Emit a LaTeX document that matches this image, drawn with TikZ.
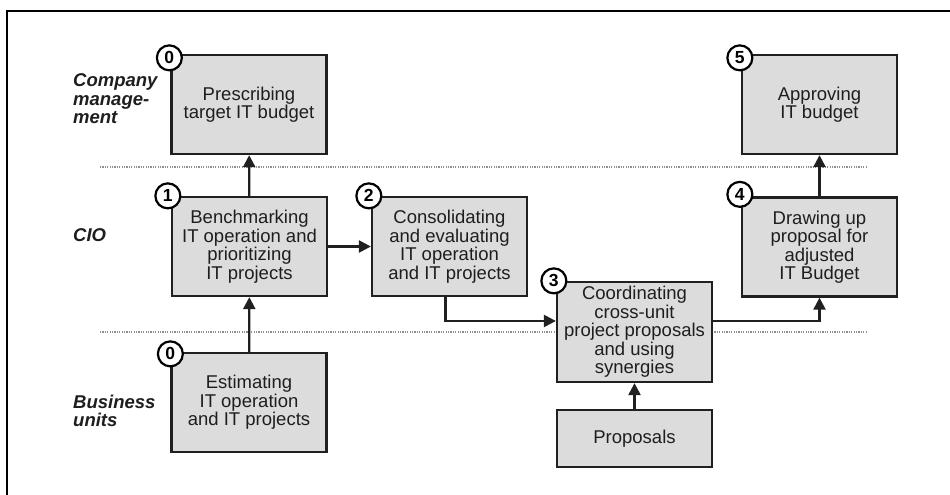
\documentclass[tikz,border=0pt]{standalone}
\usepackage{fontspec}
\setmainfont{Liberation Sans}
\usetikzlibrary{arrows.meta,calc}
\definecolor{boxfill}{HTML}{DCDCDC}
\definecolor{boxline}{HTML}{202020}
\definecolor{txt}{HTML}{1E1E1E}
\definecolor{sepgray}{HTML}{8E8E8E}
\begin{document}
\begin{tikzpicture}[x=1pt,y=-1pt,
  stepbox/.style={draw=boxline, fill=boxfill, line width=2.3pt,
    minimum width=155pt, minimum height=99pt, inner sep=0pt,
    align=center, text=txt, font=\fontsize{18.5}{18.5}\selectfont},
  numtag/.style={circle, draw=black, fill=white, line width=2.2pt,
    minimum size=25pt, inner sep=0pt, text=black,
    font=\fontsize{17.5}{17.5}\selectfont\bfseries},
  lane/.style={anchor=west, align=left, inner sep=0pt, text=txt,
    font=\fontsize{18.5}{18.5}\selectfont\bfseries\itshape},
  flow/.style={draw=boxline, line width=2.3pt,
    -{Triangle[length=12pt,width=12pt]}},
  sep/.style={draw=sepgray, line width=1.1pt, dash pattern=on 1.2pt off 1.2pt}]

  % canvas and frame
  \useasboundingbox (0,0) rectangle (950,495);
  \draw[line width=2.6pt] (7,495) -- (7,11) -- (950,11);

  % lane separators
  \coordinate (s1a) at (100,167);
  \coordinate (s1b) at (867,167);
  \coordinate (s2a) at (100,332);
  \coordinate (s2b) at (867,332);
  \draw[sep] (s1a) -- (s1b);
  \draw[sep] (s2a) -- (s2b);

  % lane labels
  \node[lane] (lmgmt) at (73,99) {Company\\manage-\\ment};
  \node[lane] (lcio) at (73,235) {CIO};
  \node[lane] (lbu) at (73,411) {Business\\units};

  % process steps
  \node[stepbox] (b0) at (249,104.5) {Prescribing\\target IT budget};
  \node[stepbox] (b1) at (249.5,246.5) {Benchmarking\\IT operation and\\prioritizing\\IT projects};
  \node[stepbox] (be) at (249,402.5) {Estimating\\IT operation\\and IT projects};
  \node[stepbox] (b2) at (449.5,246.5) {Consolidating\\and evaluating\\IT operation\\and IT projects};
  \node[stepbox, minimum height=100pt] (b3) at (634.5,332) {Coordinating\\cross-unit\\project proposals\\and using\\synergies};
  \node[stepbox, minimum height=57pt] (bp) at (634.5,438.5) {Proposals};
  \node[stepbox] (b4) at (819.5,247) {Drawing up\\proposal for\\adjusted\\IT Budget};
  \node[stepbox] (b5) at (819.5,104.5) {Approving\\IT budget};

  % step numbers
  \node[numtag] (n0) at ($(b0.north west)+(-1,4)$) {0};
  \node[numtag] (n1) at ($(b1.north west)+(-3,0)$) {1};
  \node[numtag] (ne) at ($(be.north west)+(0,2)$) {0};
  \node[numtag] (n2) at ($(b2.north west)+(-2,0)$) {2};
  \node[numtag] (n3) at ($(b3.north west)+(-2,0)$) {3};
  \node[numtag] (n4) at ($(b4.north west)+(-1,-2)$) {4};
  \node[numtag] (n5) at ($(b5.north west)+(-1,4)$) {5};

  % flows
  \coordinate (lvl) at (0,321);
  \draw[flow] (be) -- (b1);
  \draw[flow] (b1) -- (b0);
  \draw[flow] (b1) -- (b2);
  \draw[flow] ([xshift=-4pt]b2.south) |- (b3.west |- lvl);
  \draw[flow] (bp) -- (b3);
  \draw[flow] (b3.east |- lvl) -| (b4.south);
  \draw[flow] (b4) -- (b5);
\end{tikzpicture}
\end{document}
